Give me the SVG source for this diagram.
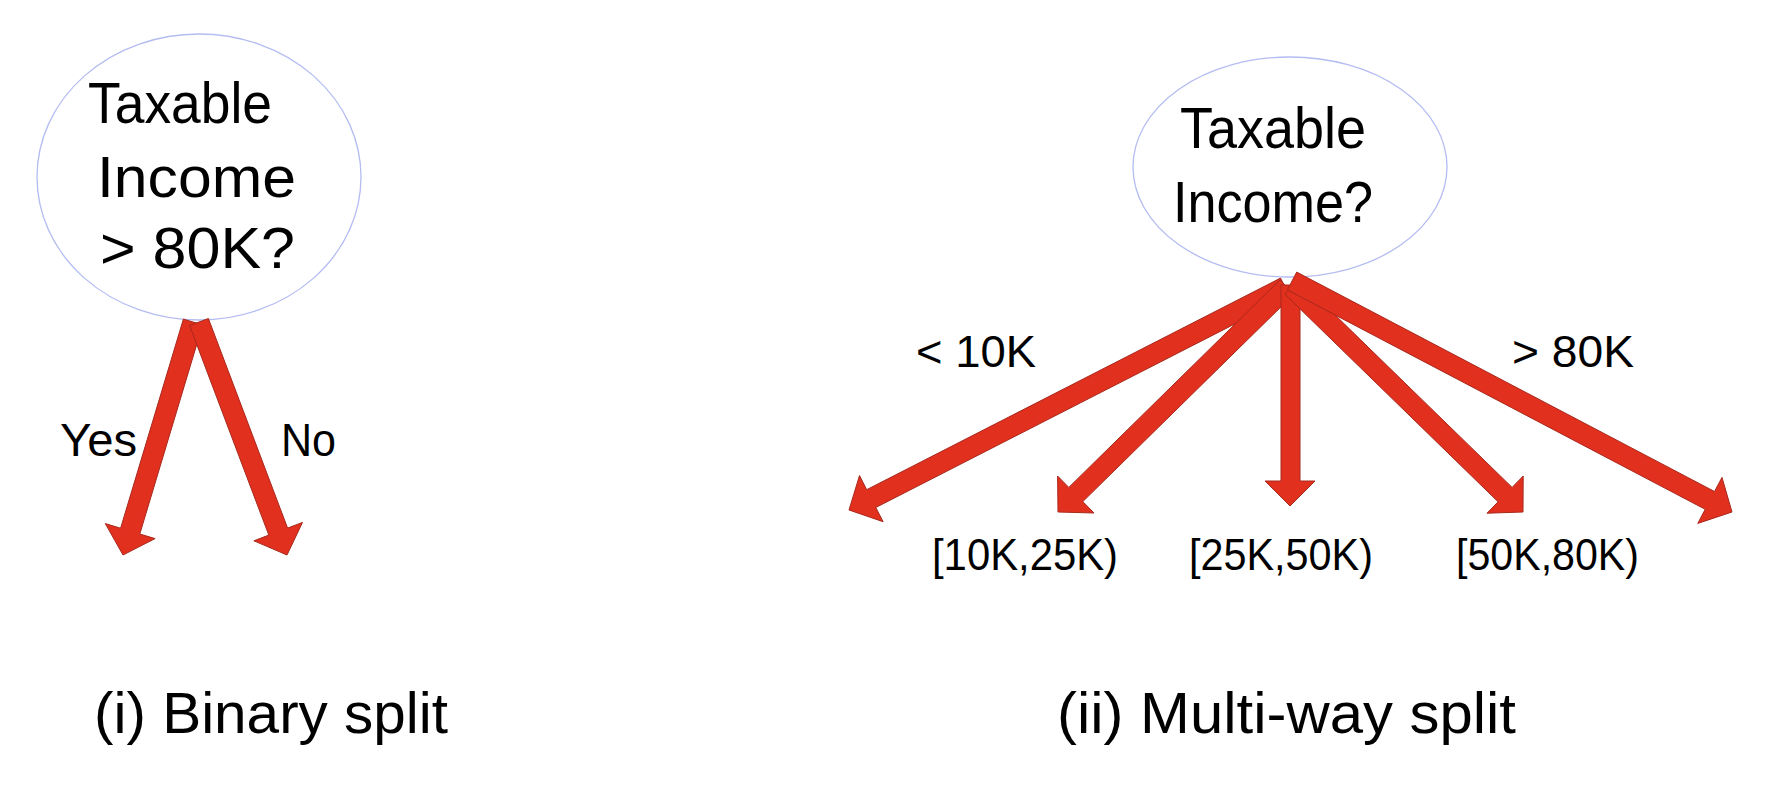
<svg xmlns="http://www.w3.org/2000/svg" width="1778" height="794" viewBox="0 0 1778 794">
<style>
.bg{fill:#ffffff}
.node{fill:#ffffff;stroke:#b4bcf2;stroke-width:1.3}
.arr{fill:#e2301f;stroke:#a8281c;stroke-width:1;stroke-linejoin:miter}
text{font-family:"Liberation Sans",Arial,sans-serif;fill:#000000}
.big{font-size:58px}
.big2{font-size:57px}
.lbl{font-size:46px}
.rng{font-size:44px}
.rng2{font-size:45px}
.cap{font-size:57px}
</style>
<rect class="bg" x="0" y="0" width="1778" height="794"/>
<g id="node-binary">
<ellipse class="node" cx="199" cy="177" rx="162" ry="143"/>
<text class="big" x="88" y="123" textLength="184" lengthAdjust="spacingAndGlyphs">Taxable</text>
<text class="big" x="97" y="197" textLength="199" lengthAdjust="spacingAndGlyphs">Income</text>
<text class="big" x="100" y="268" textLength="195" lengthAdjust="spacingAndGlyphs">&gt; 80K?</text>
</g>
<g id="node-multi">
<ellipse class="node" cx="1290" cy="167" rx="157" ry="110"/>
<text class="big2" x="1180" y="148" textLength="186" lengthAdjust="spacingAndGlyphs">Taxable</text>
<text class="big2" x="1173" y="222" textLength="200" lengthAdjust="spacingAndGlyphs">Income?</text>
</g>
<g id="connectors">
<polygon class="arr" points="183.4,319.1 120.6,528.2 105.3,523.6 123,555 155.1,538.6 139.8,534.0 202.6,324.9"/>
<polygon class="arr" points="189.6,325.5 268.8,535.1 253.9,540.8 287,555 302.5,522.4 287.6,528.1 208.4,318.5"/>
<polygon class="arr" points="1280.5,278.1 866.7,489.7 859.5,475.5 849,510 883.1,521.7 875.8,507.5 1289.6,295.9"/>
<polygon class="arr" points="1280.0,279.9 1068.8,487.4 1057.6,476.0 1058,512 1094.0,513.0 1082.8,501.6 1294.0,294.1"/>
<polygon class="arr" points="1281,285 1281,481 1265,481 1290,506 1315,481 1300,481 1300,285"/>
<polygon class="arr" points="1285.0,294.2 1498.1,501.8 1487.0,513.2 1523,512 1523.2,476.0 1512.1,487.4 1299.0,279.8"/>
<polygon class="arr" points="1287.4,289.9 1705.2,509.3 1697.8,523.4 1732,512 1722.0,477.4 1714.5,491.5 1296.7,272.1"/>
</g>
<g id="labels">
<text class="lbl" x="60" y="456" textLength="77" lengthAdjust="spacingAndGlyphs">Yes</text>
<text class="lbl" x="281" y="456" textLength="55" lengthAdjust="spacingAndGlyphs">No</text>
<text class="rng" x="916" y="367" textLength="120" lengthAdjust="spacingAndGlyphs">&lt; 10K</text>
<text class="rng" x="1512" y="367" textLength="122" lengthAdjust="spacingAndGlyphs">&gt; 80K</text>
<text class="rng2" x="932" y="570" textLength="186" lengthAdjust="spacingAndGlyphs">[10K,25K)</text>
<text class="rng2" x="1189" y="570" textLength="184" lengthAdjust="spacingAndGlyphs">[25K,50K)</text>
<text class="rng2" x="1456" y="570" textLength="183" lengthAdjust="spacingAndGlyphs">[50K,80K)</text>
</g>
<g id="captions">
<text class="cap" x="94" y="733" textLength="354" lengthAdjust="spacingAndGlyphs">(i) Binary split</text>
<text class="cap" x="1057" y="733" textLength="459" lengthAdjust="spacingAndGlyphs">(ii) Multi-way split</text>
</g>
</svg>
